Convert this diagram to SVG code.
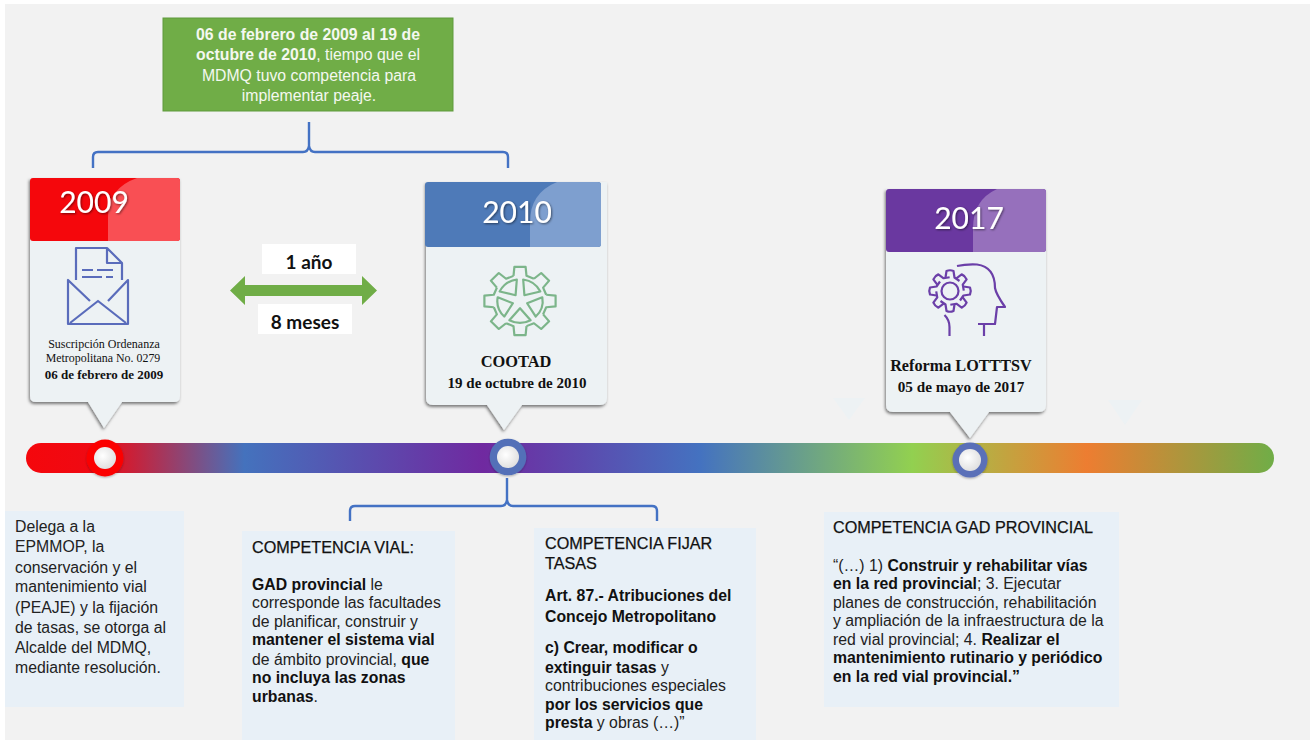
<svg xmlns="http://www.w3.org/2000/svg" width="1310" height="740" viewBox="0 0 1310 740">
<defs>
<linearGradient id="bar" x1="26" x2="1274" y1="0" y2="0" gradientUnits="userSpaceOnUse">
<stop offset="0" stop-color="#f5070c"/><stop offset="0.06" stop-color="#ee0a14"/><stop offset="0.175" stop-color="#4472bd"/><stop offset="0.366" stop-color="#7029a0"/><stop offset="0.54" stop-color="#4472c0"/><stop offset="0.71" stop-color="#92d050"/><stop offset="0.85" stop-color="#ed7d31"/><stop offset="1" stop-color="#70ad47"/>
</linearGradient>
<radialGradient id="hole" cx="0.4" cy="0.4" r="0.7"><stop offset="0" stop-color="#ffffff"/><stop offset="1" stop-color="#dcdcdc"/></radialGradient>
<filter id="sh" x="-10%" y="-10%" width="120%" height="120%"><feDropShadow dx="-1" dy="2" stdDeviation="1.6" flood-color="#000" flood-opacity="0.5"/></filter>
<filter id="sm" x="-20%" y="-20%" width="140%" height="140%"><feDropShadow dx="0" dy="1" stdDeviation="1" flood-color="#000" flood-opacity="0.3"/></filter>
<filter id="ts" x="-10%" y="-10%" width="125%" height="130%"><feDropShadow dx="1" dy="1" stdDeviation="0.8" flood-color="#000" flood-opacity="0.5"/></filter>
<path id="tooth" d="M-6.5,-26.2 L-5.6,-35.6 L5.6,-35.6 L6.5,-26.2 L13.9,-23.1"/>
<path id="wedge" d="M0,-7.500 L10.600,-20 A22.600,22.600 0 0 0 -10.600,-20 Z"/>
<path id="lobe" d="M-4.5,-13.5 L-3.5,-20 Q0,-21.5 3.5,-20 L4.5,-13.5 L9.5,-10"/>
</defs>
<style>
.serif{font-family:"Liberation Serif","Times New Roman",serif;fill:#111}
.year{font-family:Lato,"Open Sans",sans-serif;font-size:30px;fill:#fff;text-anchor:middle;filter:url(#ts)}
.dur{font-family:Lato,"Open Sans",sans-serif;font-size:19px;font-weight:700;fill:#111;text-anchor:middle}
.body{font-family:"Liberation Sans",Arial,sans-serif;font-size:15.800px;fill:#222}
.head{font-size:16.200px;fill:#111;stroke:#111;stroke-width:0.25}
.box{fill:#e8f0f7}
.card{fill:#edf2f4;filter:url(#sh)}
.b{font-weight:700;fill:#111}
.con{fill:none;stroke:#4472c4;stroke-width:2.4}
.ico{fill:none;stroke-width:2.2;stroke-linejoin:round}
.white{fill:#fff}
</style>
<rect width="1310" height="740" fill="#fff"/>
<rect x="5" y="4" width="1305" height="736" fill="#f2f2f2"/>

<path d="M833,398 H865 L849,420 Z M1108,400 H1142 L1125,425 Z" fill="#edf2f4"/>

<g id="timeline">
<rect x="26" y="443" width="1248" height="30" rx="15" fill="url(#bar)"/>
</g>

<g id="connectors">
<path class="con" d="M93,168 V157 Q93,152 98,152 H303 Q308,152 309,146 Q310,152 315,152 H503 Q508,152 508,157 V168 M309,146 V122"/>
<path class="con" d="M350,521 V511 Q350,506 355,506 H501 Q506,506 507,500 Q508,506 513,506 H652 Q657,506 657,511 V521 M507,500 V478"/>
</g>

<g id="note-periodo">
<rect x="163" y="18" width="290" height="93" fill="#70ad47" stroke="#5f9a3c"/>
<g font-family="Liberation Sans, Arial, sans-serif" font-size="15.800" fill="#f4f8f0" text-anchor="middle">
<text x="308" y="40" font-weight="700">06 de febrero de 2009 al 19 de</text>
<text x="308" y="60"><tspan font-weight="700">octubre de 2010</tspan>, tiempo que el</text>
<text x="309" y="81">MDMQ tuvo competencia para</text>
<text x="309" y="101">implementar peaje.</text>
</g>
</g>

<g id="card-2009">
<path class="card" d="M30,178 H180 V396 Q180,402 174,402 H122 L104,428 L88,402 H36 Q30,402 30,396 Z"/>
<rect x="30" y="178" width="150" height="63" rx="3" fill="#f5070c"/>
<path d="M108,241 V217 Q108,188 137,178 H177 Q180,178 180,181 V238 Q180,241 177,241 Z" fill="#f94f54"/>
<text class="year" x="94" y="213">2009</text>
<g class="ico" stroke="#5a6cbb">
<path d="M76,280 V248 H107 L122,263 V280 M107,248 V263 H122"/>
<path d="M82,270 H93 M97,270 H113 M82,277 H102 M106,277 H113"/>
<path d="M90,301 L68,280 V324 H128 V280 L108,301 M70,323 L98,301 L126,323"/>
</g>
<g class="serif" text-anchor="middle">
<text x="104" y="348" font-size="12">Suscripción Ordenanza</text>
<text x="103" y="362" font-size="11.900">Metropolitana No. 0279</text>
<text x="104" y="379" font-size="13" font-weight="700">06 de febrero de 2009</text>
</g>
</g>

<g id="duracion">
<rect class="white" x="262" y="244" width="94" height="30"/>
<rect class="white" x="258" y="304" width="94" height="30"/>
<path d="M230,290.500 L245,276 V285 H362 V276 L377,290.500 L362,305 V296 H245 V305 Z" fill="#70ad47"/>
<text class="dur" x="309" y="269">1 año</text>
<text class="dur" x="305" y="329">8 meses</text>
</g>

<g id="card-2010">
<path class="card" d="M426,182 H607 V398 Q607,405 600,405 H522 L504,430 L487,405 H433 Q426,405 426,398 Z"/>
<rect x="425" y="182" width="176" height="65" rx="3" fill="#4e7ab8"/>
<path d="M530,247 V222 Q530,193 557,182 H598 Q601,182 601,185 V244 Q601,247 598,247 Z" fill="#7e9fcf"/>
<text class="year" x="517" y="223">2010</text>
<g class="ico" stroke="#7cb58a" transform="translate(520,301) scale(1,0.96)">
<use href="#tooth"/><use href="#tooth" transform="rotate(45)"/><use href="#tooth" transform="rotate(90)"/><use href="#tooth" transform="rotate(135)"/><use href="#tooth" transform="rotate(180)"/><use href="#tooth" transform="rotate(225)"/><use href="#tooth" transform="rotate(270)"/><use href="#tooth" transform="rotate(315)"/>
<use href="#wedge" transform="rotate(36)"/><use href="#wedge" transform="rotate(108)"/><use href="#wedge" transform="rotate(180)"/><use href="#wedge" transform="rotate(252)"/><use href="#wedge" transform="rotate(324)"/>
</g>
<g class="serif" text-anchor="middle" font-weight="700">
<text x="516" y="367" font-size="16.400">COOTAD</text>
<text x="517" y="388" font-size="15">19 de octubre de 2010</text>
</g>
</g>

<g id="card-2017">
<path class="card" d="M886,189 H1046 V405 Q1046,412 1039,412 H989 L970,438 L950,412 H893 Q886,412 886,405 Z"/>
<rect x="886" y="189" width="160" height="63" rx="3" fill="#6a38a0"/>
<path d="M973,252 V228 Q973,200 997,189 H1043 Q1046,189 1046,192 V249 Q1046,252 1043,252 Z" fill="#9670bc"/>
<text class="year" x="969" y="229">2017</text>
<g class="ico" stroke="#6b3fa8">
<g transform="translate(950,291)">
<use href="#lobe"/><use href="#lobe" transform="rotate(45)"/><use href="#lobe" transform="rotate(90)"/><use href="#lobe" transform="rotate(135)"/><use href="#lobe" transform="rotate(180)"/><use href="#lobe" transform="rotate(225)"/><use href="#lobe" transform="rotate(270)"/><use href="#lobe" transform="rotate(315)"/>
<circle r="8.500"/>
</g>
<path d="M957,266 Q966,264 977,264.500 C988,266 995,273 995,288 Q996,294 1005,307 L997,307 L995,324 H978 M984,324 V336 M944.500,315 Q949.500,320 949.500,327 V336"/>
</g>
<g class="serif" text-anchor="middle" font-weight="700">
<text x="961" y="371" font-size="16.200">Reforma LOTTTSV</text>
<text x="961" y="392" font-size="15.200">05 de mayo de 2017</text>
</g>
</g>

<g id="hito-2009"><circle cx="105" cy="458" r="18.500" fill="#fb0000" filter="url(#sm)"/><circle cx="105" cy="458" r="11" fill="url(#hole)"/></g>
<g id="hito-2010"><circle cx="508" cy="457" r="18.300" fill="#5270b8" filter="url(#sm)"/><circle cx="508" cy="457" r="11" fill="url(#hole)"/></g>
<g id="hito-2017"><circle cx="970" cy="460" r="17.500" fill="#5a70b8" filter="url(#sm)"/><circle cx="970" cy="460" r="11" fill="url(#hole)"/></g>

<g id="texto-delega">
<rect class="box" x="5" y="511" width="179" height="196"/>
<g class="body">
<text x="15" y="532">Delega a la</text>
<text x="15" y="552">EPMMOP, la</text>
<text x="15" y="573">conservación y el</text>
<text x="15" y="592">mantenimiento vial</text>
<text x="15" y="613">(PEAJE) y la fijación</text>
<text x="15" y="633">de tasas, se otorga al</text>
<text x="15" y="653">Alcalde del MDMQ,</text>
<text x="15" y="673">mediante resolución.</text>
</g>
</g>

<g id="texto-vial">
<rect class="box" x="242" y="531" width="213" height="209"/>
<g class="body">
<text x="252" y="553" class="head">COMPETENCIA VIAL:</text>
<text x="252" y="590"><tspan class="b">GAD provincial</tspan> le</text>
<text x="252" y="608">corresponde las facultades</text>
<text x="252" y="627">de planificar, construir y</text>
<text x="252" y="645" class="b">mantener el sistema vial</text>
<text x="252" y="665">de ámbito provincial, <tspan class="b">que</tspan></text>
<text x="252" y="683" class="b">no incluya las zonas</text>
<text x="252" y="702"><tspan class="b">urbanas</tspan>.</text>
</g>
</g>

<g id="texto-tasas">
<rect class="box" x="534" y="528" width="222" height="212"/>
<g class="body">
<text x="545" y="549" class="head">COMPETENCIA FIJAR</text>
<text x="545" y="569" class="head">TASAS</text>
<text x="545" y="601" class="b">Art. 87.- Atribuciones del</text>
<text x="545" y="622" class="b">Concejo Metropolitano</text>
<text x="545" y="653"><tspan class="b">c) Crear, modificar o</tspan></text>
<text x="545" y="673"><tspan class="b">extinguir tasas</tspan> y</text>
<text x="545" y="691">contribuciones especiales</text>
<text x="545" y="710" class="b">por los servicios que</text>
<text x="545" y="728"><tspan class="b">presta</tspan> y obras (…)”</text>
</g>
</g>

<g id="texto-gad">
<rect class="box" x="824" y="512" width="295" height="195"/>
<g class="body">
<text x="833" y="533" class="head">COMPETENCIA GAD PROVINCIAL</text>
<text x="833" y="571">“(…) 1) <tspan class="b">Construir y rehabilitar vías</tspan></text>
<text x="833" y="589"><tspan class="b">en la red provincial</tspan>; 3. Ejecutar</text>
<text x="833" y="608">planes de construcción, rehabilitación</text>
<text x="833" y="626">y ampliación de la infraestructura de la</text>
<text x="833" y="645">red vial provincial; 4. <tspan class="b">Realizar el</tspan></text>
<text x="833" y="663" class="b">mantenimiento rutinario y periódico</text>
<text x="833" y="682" class="b">en la red vial provincial.”</text>
</g>
</g>
</svg>
